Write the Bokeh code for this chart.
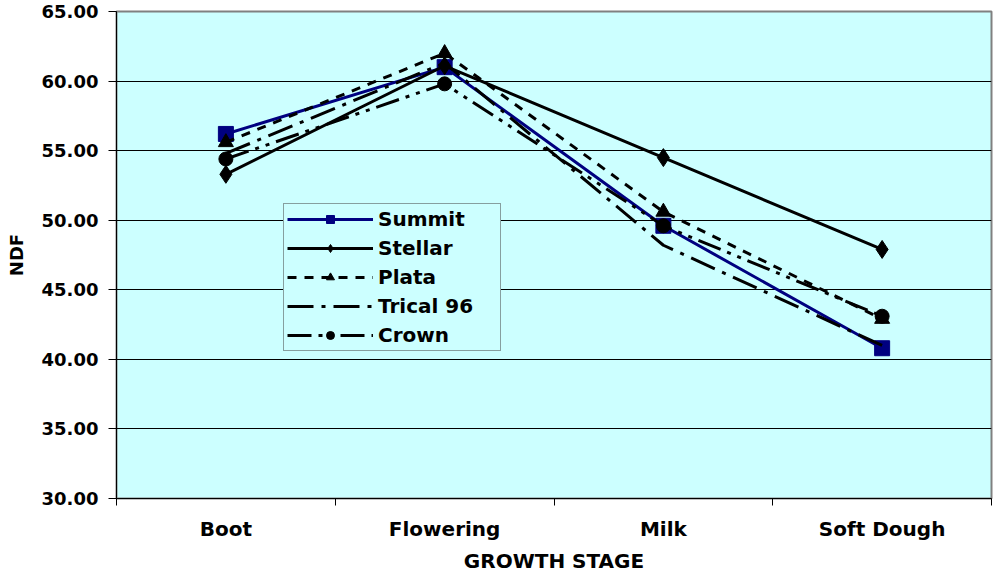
from bokeh.embed import file_html
from bokeh.models import FixedTicker, Legend, NumeralTickFormatter, Range1d
from bokeh.plotting import figure
from bokeh.resources import INLINE

# NDF por estado de crecimiento
stages = ["Boot", "Flowering", "Milk", "Soft Dough"]
summit = [56.2, 61.0, 49.6, 40.8]
stellar = [53.3, 61.1, 54.5, 47.9]
plata = [55.6, 62.0, 50.6, 42.9]
trical = [54.8, 61.3, 48.2, 41.0]
crown = [54.4, 59.8, 49.6, 43.1]
y_ticks = [30, 35, 40, 45, 50, 55, 60, 65]

FONT = "DejaVu Sans"
x = [i + 0.5 for i in range(len(stages))]

p = figure(
    frame_width=875,
    frame_height=487,
    x_range=Range1d(0, len(stages)),
    y_range=Range1d(30, 65),
    output_backend="svg",
    toolbar_location=None,
    min_border_left=116,
    min_border_right=2,
    min_border_top=11,
    min_border_bottom=20,
)
p.border_fill_color = "white"
p.background_fill_color = "#CCFFFF"
p.outline_line_color = "#808080"
p.outline_line_width = 2

# lineas
r1 = p.line(x, summit, line_color="#000080", line_width=3)
m1 = p.scatter(x, summit, marker="square", size=15, fill_color="#000080", line_color="#000080")
r2 = p.line(x, stellar, line_color="black", line_width=3)
m2 = p.scatter(x, stellar, marker="diamond", size=18, fill_color="black", line_color="black")
r3 = p.line(x, plata, line_color="black", line_width=3, line_dash="9 8")
m3 = p.scatter(x, plata, marker="triangle", size=15, fill_color="black", line_color="black")
r4 = p.line(x, trical, line_color="black", line_width=3, line_dash="26 8 4 8")
r5 = p.line(x, crown, line_color="black", line_width=3, line_dash="24 7 4 7 4 7")
m5 = p.scatter(x, crown, marker="circle", size=14, fill_color="black", line_color="black")

legend = Legend(
    items=[
        ("Summit", [r1, m1]),
        ("Stellar", [r2, m2]),
        ("Plata", [r3, m3]),
        ("Trical 96", [r4]),
        ("Crown", [r5, m5]),
    ],
    location=(167, 147),
    orientation="vertical",
)
legend.label_text_font = FONT
legend.label_text_font_style = "bold"
legend.label_text_font_size = "20px"
legend.label_text_color = "black"
legend.glyph_width = 86
legend.glyph_height = 20
legend.label_height = 20
legend.label_width = 119
legend.label_standoff = 5
legend.spacing = 5
legend.padding = 3
legend.margin = 0
legend.border_line_color = "#404040"
legend.border_line_width = 1
legend.background_fill_color = "#CCFFFF"
legend.background_fill_alpha = 1
p.add_layout(legend)

# ejes
p.xgrid.grid_line_color = None
p.ygrid.grid_line_color = "black"
p.ygrid.grid_line_width = 1

p.yaxis.ticker = FixedTicker(ticks=y_ticks)
p.yaxis.formatter = NumeralTickFormatter(format="0.00")
p.yaxis.axis_label = "NDF"
p.yaxis.major_tick_out = 8
p.yaxis.major_tick_in = 0
p.yaxis.minor_tick_line_color = None
p.yaxis.major_label_standoff = 10
p.yaxis.axis_label_standoff = 12

p.xaxis.ticker = FixedTicker(ticks=x, minor_ticks=list(range(len(stages) + 1)))
p.xaxis.major_label_overrides = {xi: s for xi, s in zip(x, stages)}
p.xaxis.axis_label = "GROWTH STAGE"
p.xaxis.major_tick_out = 0
p.xaxis.major_tick_in = 0
p.xaxis.minor_tick_out = 7
p.xaxis.minor_tick_in = 0
p.xaxis.major_label_standoff = 11
p.xaxis.axis_label_standoff = 5

for ax in (p.xaxis, p.yaxis):
    ax.axis_line_color = "black"
    ax.axis_line_width = 1
    ax.major_tick_line_color = "black"
    ax.major_label_text_font = FONT
    ax.major_label_text_font_style = "bold"
    ax.major_label_text_color = "black"
    ax.axis_label_text_font = FONT
    ax.axis_label_text_font_style = "bold"
    ax.axis_label_text_color = "black"
p.xaxis.minor_tick_line_color = "black"

p.yaxis.major_label_text_font_size = "18px"
p.yaxis.axis_label_text_font_size = "18px"
p.xaxis.major_label_text_font_size = "20px"
p.xaxis.axis_label_text_font_size = "20px"

open("out.html", "w").write(file_html(p, INLINE))
